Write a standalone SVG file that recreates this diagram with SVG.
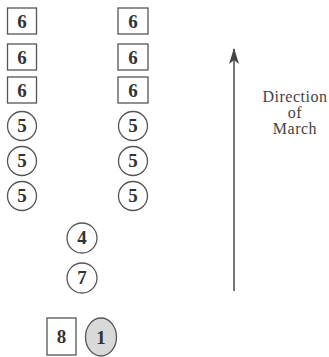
<svg xmlns="http://www.w3.org/2000/svg" width="329" height="357" viewBox="0 0 329 357">
  <style>
    .box { fill: #ffffff; stroke: #555555; stroke-width: 1.3; }
    .ring { fill: #ffffff; stroke: #555555; stroke-width: 1.3; }
    .lead { fill: #d9d9d9; stroke: #555555; stroke-width: 1.3; }
    .num { font-family: "Liberation Serif", "DejaVu Serif", serif; font-size: 19px; font-weight: bold; fill: #333333; text-anchor: middle; }
    .label { font-family: "Liberation Serif", "DejaVu Serif", serif; font-size: 16px; fill: #444444; text-anchor: middle; letter-spacing: 0.5px; }
    .arrow { stroke: #555555; stroke-width: 1.6; fill: none; }
  </style>
  <defs>
    <marker id="head" viewBox="0 0 16 10" refX="15" refY="5" markerWidth="16" markerHeight="10" markerUnits="userSpaceOnUse" orient="auto">
      <path d="M0,0 L16,5 L0,10 L4,5 Z" fill="#444444"/>
    </marker>
  </defs>
  <rect width="329" height="357" fill="#ffffff"/>

  <!-- left column -->
  <g id="n6-l1"><rect class="box" x="7.5" y="8" width="29" height="26"/><text class="num" x="22" y="28">6</text></g>
  <g id="n6-l2"><rect class="box" x="7.5" y="44" width="29" height="26"/><text class="num" x="22" y="64">6</text></g>
  <g id="n6-l3"><rect class="box" x="7.5" y="77" width="29" height="26"/><text class="num" x="22" y="97">6</text></g>
  <g id="n5-l1"><circle class="ring" cx="22" cy="126" r="14.5"/><text class="num" x="22" y="132">5</text></g>
  <g id="n5-l2"><circle class="ring" cx="22" cy="161" r="14.5"/><text class="num" x="22" y="167">5</text></g>
  <g id="n5-l3"><circle class="ring" cx="22" cy="196" r="14.5"/><text class="num" x="22" y="202">5</text></g>

  <!-- right column -->
  <g id="n6-r1"><rect class="box" x="118" y="8" width="30" height="26"/><text class="num" x="133" y="28">6</text></g>
  <g id="n6-r2"><rect class="box" x="118" y="44" width="30" height="26"/><text class="num" x="133" y="64">6</text></g>
  <g id="n6-r3"><rect class="box" x="118" y="77" width="30" height="26"/><text class="num" x="133" y="97">6</text></g>
  <g id="n5-r1"><circle class="ring" cx="133" cy="126" r="14.5"/><text class="num" x="133" y="132">5</text></g>
  <g id="n5-r2"><circle class="ring" cx="133" cy="161" r="14.5"/><text class="num" x="133" y="167">5</text></g>
  <g id="n5-r3"><circle class="ring" cx="133" cy="196" r="14.5"/><text class="num" x="133" y="202">5</text></g>

  <!-- centre column -->
  <g id="n4"><circle class="ring" cx="82" cy="238" r="15"/><text class="num" x="82" y="244">4</text></g>
  <g id="n7"><circle class="ring" cx="82" cy="278" r="15"/><text class="num" x="82" y="284">7</text></g>
  <g id="n8"><rect class="box" x="47" y="318" width="29" height="37"/><text class="num" x="61.5" y="343">8</text></g>
  <g id="n1"><ellipse class="lead" cx="101" cy="337" rx="15.5" ry="19"/><text class="num" x="101" y="344">1</text></g>

  <!-- direction of march -->
  <g id="connectors">
    <line class="arrow" x1="234" y1="291" x2="234" y2="49" marker-end="url(#head)"/>
  </g>
  <g id="direction-label">
    <text class="label" x="295" y="102">Direction</text>
    <text class="label" x="295" y="118">of</text>
    <text class="label" x="295" y="134">March</text>
  </g>
</svg>
